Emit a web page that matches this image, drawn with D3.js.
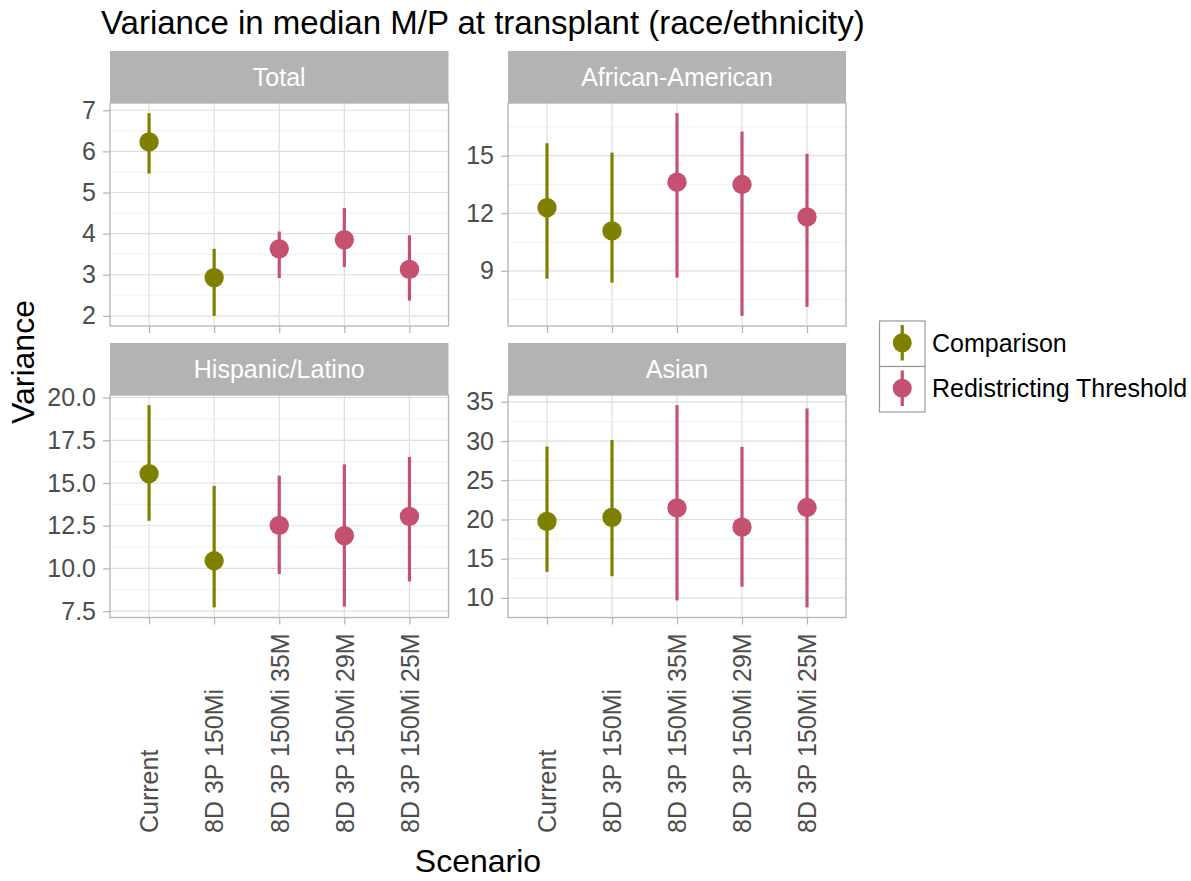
<!DOCTYPE html>
<html>
<head>
<meta charset="utf-8">
<script src="https://cdn.jsdelivr.net/npm/d3@7"></script>
<style>
  html, body { margin: 0; padding: 0; background: #fff; }
  svg { display: block; font-family: "Liberation Sans", Arial, Helvetica, sans-serif; }
</style>
</head>
<body>
<svg id="chart" width="1191" height="881"></svg>
<script>
// Scenarios on the x axis and the series each one belongs to
const scenarios = ["Current", "8D 3P 150Mi", "8D 3P 150Mi 35M", "8D 3P 150Mi 29M", "8D 3P 150Mi 25M"];
const scenarioGroup = ["Comparison", "Comparison", "Redistricting Threshold", "Redistricting Threshold", "Redistricting Threshold"];
const groups = ["Comparison", "Redistricting Threshold"];

// Facet titles
const panelNames = ["Total", "African-American", "Hispanic/Latino", "Asian"];

// Median variance with lower / upper interval per scenario
const totalMedian = [6.23, 2.93, 3.63, 3.85, 3.13];
const totalLow    = [5.46, 2.00, 2.92, 3.19, 2.37];
const totalHigh   = [6.93, 3.63, 4.05, 4.62, 3.96];

const aaMedian = [12.29, 11.08, 13.62, 13.50, 11.81];
const aaLow    = [8.59, 8.38, 8.64, 6.65, 7.12];
const aaHigh   = [15.65, 15.16, 17.22, 16.26, 15.10];

const hispMedian = [15.55, 10.45, 12.52, 11.92, 13.05];
const hispLow    = [12.79, 7.72, 9.67, 7.76, 9.24];
const hispHigh   = [19.56, 14.83, 15.43, 16.09, 16.53];

const asianMedian = [19.75, 20.26, 21.48, 19.03, 21.53];
const asianLow    = [13.33, 12.78, 9.69, 11.43, 8.80];
const asianHigh   = [29.30, 30.14, 34.58, 29.26, 34.15];

// Y tick values per facet
const totalTicks = [2, 3, 4, 5, 6, 7];
const aaTicks    = [9, 12, 15];
const hispTicks  = [7.5, 10, 12.5, 15, 17.5, 20];
const asianTicks = [10, 15, 20, 25, 30, 35];

const panelData = [
  { median: totalMedian, low: totalLow, high: totalHigh, ticks: totalTicks, fmt: d3.format("d") },
  { median: aaMedian, low: aaLow, high: aaHigh, ticks: aaTicks, fmt: d3.format("d") },
  { median: hispMedian, low: hispLow, high: hispHigh, ticks: hispTicks, fmt: d3.format(".1f") },
  { median: asianMedian, low: asianLow, high: asianHigh, ticks: asianTicks, fmt: d3.format("d") }
];

const color = d3.scaleOrdinal().domain(groups).range(["#808000", "#c4516f"]);

// Facet grid geometry
const colX = [[110, 448.5], [508, 846]];
const rowY = [{ strip: 51, top: 103, bottom: 326 }, { strip: 343, top: 395, bottom: 617.5 }];

const svg = d3.select("#chart");
const gridMajor = "#dedede", gridMinor = "#eeeeee", frame = "#b3b3b3", tickText = "#4d4d4d";
const smallFont = 25;

panelData.forEach((p, i) => {
  const col = i % 2, row = Math.floor(i / 2);
  const [x0, x1] = colX[col];
  const { strip, top, bottom } = rowY[row];

  const x = d3.scalePoint().domain(scenarios).range([x0, x1]).padding(0.6);
  const lo = d3.min(p.low), hi = d3.max(p.high), pad = (hi - lo) * 0.05;
  const y = d3.scaleLinear().domain([lo - pad, hi + pad]).range([bottom, top]);

  const g = svg.append("g");

  // strip
  g.append("rect").attr("x", x0).attr("y", strip).attr("width", x1 - x0).attr("height", top - strip)
    .attr("fill", "#b3b3b3");
  g.append("text").attr("x", (x0 + x1) / 2).attr("y", (strip + top) / 2).attr("dy", "0.36em")
    .attr("text-anchor", "middle").attr("fill", "#fff").attr("font-size", smallFont).text(panelNames[i]);

  // minor grid: midpoints between majors, extended one step beyond each end
  const t = p.ticks, step = t[1] - t[0];
  const minors = [t[0] - step / 2].concat(t.map(v => v + step / 2))
    .filter(v => v >= y.domain()[0] && v <= y.domain()[1]);
  g.selectAll(".minor").data(minors).join("line")
    .attr("x1", x0).attr("x2", x1).attr("y1", d => y(d)).attr("y2", d => y(d))
    .attr("stroke", gridMinor).attr("stroke-width", 0.8);

  // major grid
  g.selectAll(".majorY").data(t).join("line")
    .attr("x1", x0).attr("x2", x1).attr("y1", d => y(d)).attr("y2", d => y(d))
    .attr("stroke", gridMajor).attr("stroke-width", 1.2);
  g.selectAll(".majorX").data(scenarios).join("line")
    .attr("x1", d => x(d)).attr("x2", d => x(d)).attr("y1", top).attr("y2", bottom)
    .attr("stroke", gridMajor).attr("stroke-width", 1.2);

  // y axis
  const yAxis = d3.axisLeft(y).tickValues(t).tickFormat(p.fmt).tickSize(7).tickPadding(7);
  const ya = g.append("g").attr("transform", `translate(${x0},0)`).call(yAxis);
  ya.select(".domain").remove();
  ya.selectAll(".tick line").attr("stroke", frame).attr("stroke-width", 1.2);
  ya.selectAll(".tick text").attr("fill", tickText).attr("font-size", smallFont)
    .attr("font-family", "Liberation Sans, Arial, sans-serif");

  // x axis ticks on every panel, labels on the bottom row
  const xAxis = d3.axisBottom(x).tickSize(7).tickFormat(row === 1 ? (d => d) : () => "");
  const xa = g.append("g").attr("transform", `translate(0,${bottom})`).call(xAxis);
  xa.select(".domain").remove();
  xa.selectAll(".tick line").attr("stroke", frame).attr("stroke-width", 1.2);
  if (row === 1) {
    xa.selectAll(".tick text")
      .attr("fill", tickText).attr("font-size", smallFont)
      .attr("font-family", "Liberation Sans, Arial, sans-serif")
      .attr("text-anchor", "start")
      .attr("transform", `translate(0,${833 - bottom}) rotate(-90)`)
      .attr("x", 0).attr("y", 0).attr("dy", "0.35em");
  }

  // intervals and medians
  const rows = scenarios.map((s, k) => ({ s, grp: scenarioGroup[k], m: p.median[k], lo: p.low[k], hi: p.high[k] }));
  g.selectAll(".err").data(rows).join("line")
    .attr("x1", d => x(d.s)).attr("x2", d => x(d.s))
    .attr("y1", d => y(d.lo)).attr("y2", d => y(d.hi))
    .attr("stroke", d => color(d.grp)).attr("stroke-width", 3.2);
  g.selectAll(".pt").data(rows).join("circle")
    .attr("cx", d => x(d.s)).attr("cy", d => y(d.m)).attr("r", 9.7)
    .attr("fill", d => color(d.grp));

  // panel frame
  g.append("rect").attr("x", x0).attr("y", top).attr("width", x1 - x0).attr("height", bottom - top)
    .attr("fill", "none").attr("stroke", frame).attr("stroke-width", 1.3);
});

// titles
svg.append("text").attr("x", 101).attr("y", 34).attr("font-size", 33).attr("fill", "#000")
  .text("Variance in median M/P at transplant (race/ethnicity)");
svg.append("text").attr("transform", "translate(34,362) rotate(-90)").attr("text-anchor", "middle")
  .attr("font-size", 32).attr("fill", "#000").text("Variance");
svg.append("text").attr("x", 478).attr("y", 872).attr("text-anchor", "middle")
  .attr("font-size", 32).attr("fill", "#000").text("Scenario");

// legend
const legend = svg.append("g");
const keyX = 879.5, keyY = 321, keyS = 45.5;
groups.forEach((grp, k) => {
  const ky = keyY + k * keyS;
  legend.append("rect").attr("x", keyX).attr("y", ky).attr("width", keyS).attr("height", keyS)
    .attr("fill", "#fff").attr("stroke", "#999").attr("stroke-width", 1.2);
  legend.append("line").attr("x1", keyX + keyS / 2).attr("x2", keyX + keyS / 2)
    .attr("y1", ky + 4).attr("y2", ky + keyS - 6)
    .attr("stroke", color(grp)).attr("stroke-width", 3.2);
  legend.append("circle").attr("cx", keyX + keyS / 2).attr("cy", ky + keyS / 2 - 1).attr("r", 9.5)
    .attr("fill", color(grp));
  legend.append("text").attr("x", 932).attr("y", ky + keyS / 2 - 1).attr("dy", "0.36em")
    .attr("font-size", smallFont).attr("fill", "#000").text(grp);
});
</script>
</body>
</html>
